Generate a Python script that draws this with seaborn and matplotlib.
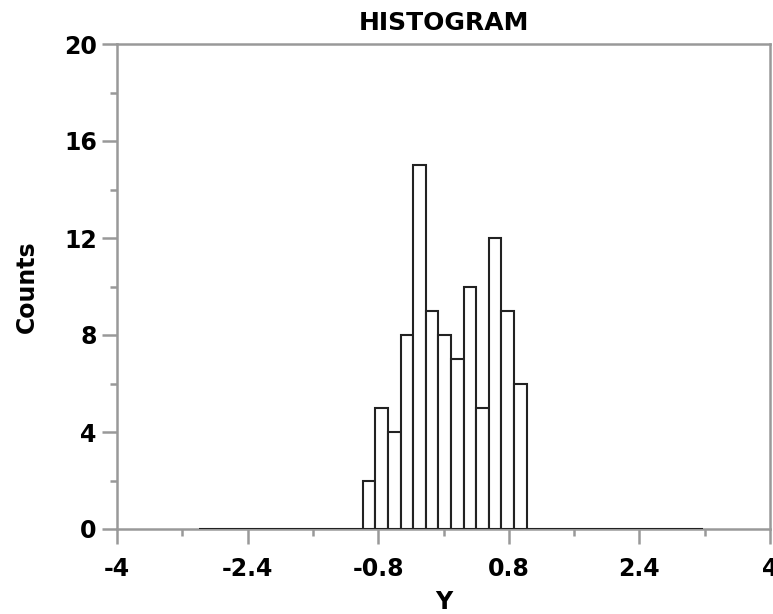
import matplotlib
matplotlib.use("Agg")
import matplotlib.pyplot as plt
import seaborn as sns
import numpy as np
import pandas as pd

# histogram classes (Dataplot style: 40 classes, lower limit -3.0, width ~0.1546)
class_lower = -3.0
class_width = 0.1546
counts = [0, 0, 0, 0, 0, 0, 0, 0, 0, 0, 0, 0, 0,
          2, 5, 4, 8, 15, 9, 8, 7, 10, 5, 12, 9, 6,
          0, 0, 0, 0, 0, 0, 0, 0, 0, 0, 0, 0, 0, 0]

x_ticks = [-4, -2.4, -0.8, 0.8, 2.4, 4]
x_tick_labels = ["-4", "-2.4", "-0.8", "0.8", "2.4", "4"]
x_minor = [-3.2, -1.6, 0, 1.6, 3.2]
y_ticks = [0, 4, 8, 12, 16, 20]
y_minor = [2, 6, 10, 14, 18]

edges = class_lower + class_width * np.arange(len(counts) + 1)
df = pd.DataFrame({"Y": (edges[:-1] + edges[1:]) / 2, "Counts": counts})

sns.set_style("white")
plt.rcParams["font.family"] = ["DejaVu Sans"]
plt.rcParams["font.weight"] = "bold"
plt.rcParams["text.color"] = "black"
plt.rcParams["axes.labelcolor"] = "black"
plt.rcParams["xtick.color"] = "black"
plt.rcParams["ytick.color"] = "black"

fig = plt.figure(figsize=(7.73, 6.14), dpi=100)
ax = fig.add_axes([117 / 773, 85 / 614, 653 / 773, 485 / 614])

sns.histplot(data=df, x="Y", weights="Counts", bins=list(edges), ax=ax,
             color="white", edgecolor="#222222", linewidth=1.5, alpha=1,
             zorder=3)

ax.set_xlim(-4, 4)
ax.set_ylim(0, 20)
ax.set_xticks(x_ticks)
ax.set_xticklabels(x_tick_labels)
ax.set_xticks(x_minor, minor=True)
ax.set_yticks(y_ticks)
ax.set_yticks(y_minor, minor=True)

for side in ["left", "bottom", "top", "right"]:
    ax.spines[side].set_color("#999999")
    ax.spines[side].set_linewidth(1.8)

ax.tick_params(bottom=True, left=True, top=False, right=False, which="both")
ax.tick_params(axis="both", which="major", direction="out", length=10.5,
               width=1.8, color="#999999", labelsize=17, labelcolor="black")
ax.tick_params(axis="both", which="minor", direction="out", length=5,
               width=1.8, color="#999999")
ax.tick_params(axis="x", which="major", pad=10)
ax.tick_params(axis="y", which="major", pad=4)
for lab in ax.get_xticklabels() + ax.get_yticklabels():
    lab.set_fontweight("bold")

ax.set_title("HISTOGRAM", fontsize=18, fontweight="bold", pad=10)
ax.set_xlabel("Y", fontsize=17, fontweight="bold")
ax.set_ylabel("Counts", fontsize=17, fontweight="bold")
ax.xaxis.set_label_coords(0.5, -0.126)
ax.yaxis.set_label_coords(-0.119, 0.5)

fig.savefig("out.png", dpi=100)
